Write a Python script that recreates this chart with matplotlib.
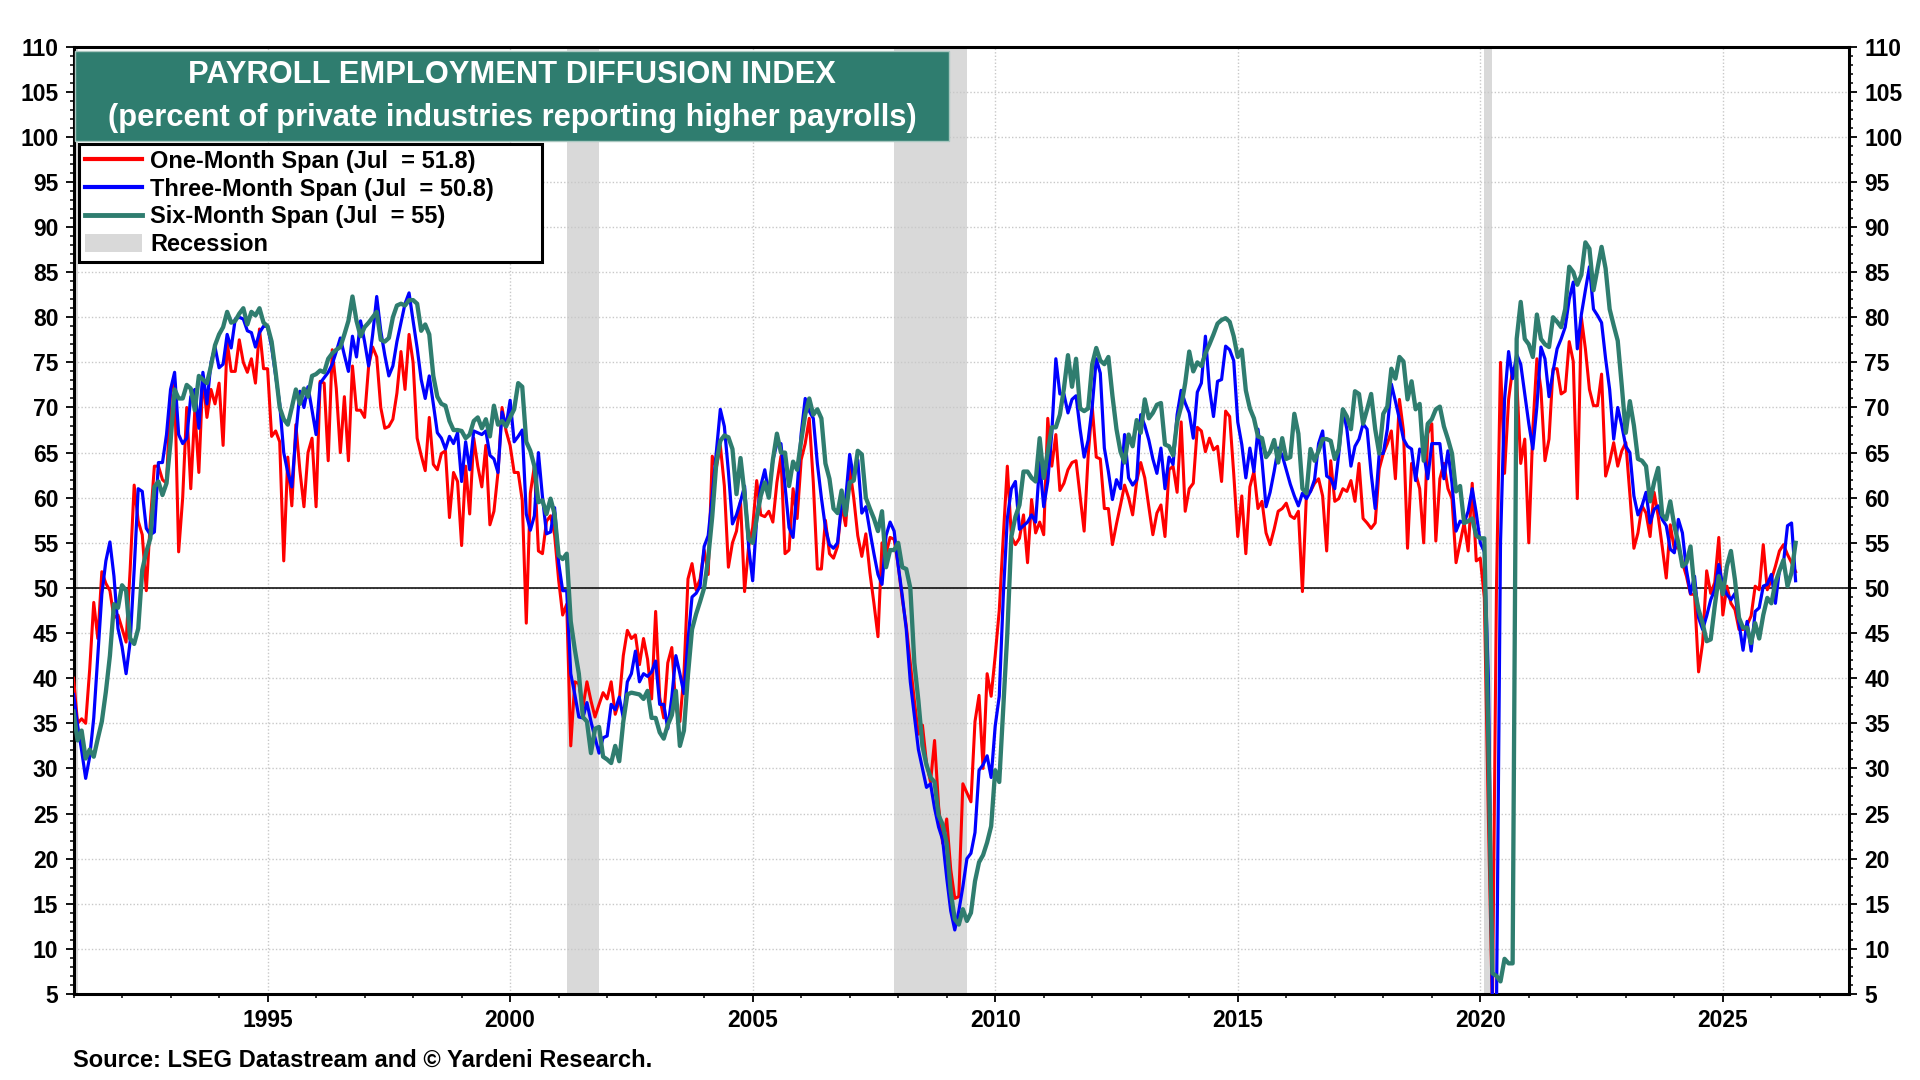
import numpy as np
import matplotlib
matplotlib.use("Agg")
import matplotlib.pyplot as plt
from matplotlib.patches import Patch, Rectangle
from matplotlib.lines import Line2D
from matplotlib.ticker import MultipleLocator

plt.rcParams["font.family"] = ["Liberation Sans", "DejaVu Sans"]
plt.rcParams["font.weight"] = "bold"

# monthly data, Jan 1991 .. Jul 2026 (one row per year)
one_month = [
    40, 35, 35.5, 35, 41, 48.4, 44.4, 51.8, 50.5, 49.7, 46.7, 47,
    45.5, 44, 52, 61.4, 57.4, 55.9, 49.7, 57.4, 63.5, 63.5, 62, 61.6,
    71.6, 72.7, 54, 60, 70, 61, 69.7, 62.8, 73.5, 68.9, 72, 70.4,
    72.7, 65.8, 77.3, 74, 74, 77.5, 75, 73.9, 75.4, 72.7, 78.7, 74.3,
    74.3, 66.8, 67.4, 66.2, 53, 64.5, 59.1, 68.1, 63, 59, 65, 66.6,
    59, 72.9, 72.7, 64.1, 76.4, 72.1, 65, 71.2, 64.1, 74.6, 69.7, 69.7,
    68.9, 74.6, 76.7, 75.6, 70, 67.7, 67.9, 68.7, 71.6, 76.2, 72, 78.1,
    75, 66.6, 64.7, 63, 68.9, 63.7, 63.1, 64.9, 65.2, 57.8, 62.8, 61.8,
    54.7, 63.5, 58.2, 66.6, 63.5, 61.2, 65.8, 57, 58.5, 62.8, 70, 67.4,
    65.8, 62.8, 62.8, 59.7, 46.1, 60.5, 63.5, 54.1, 53.8, 57.4, 58, 55.9,
    50.9, 47, 48.2, 32.5, 39.6, 39.4, 36.7, 39.6, 37.5, 35.7, 37.1, 38.4,
    37.7, 39.6, 36, 37.5, 42.5, 45.3, 44.4, 44.8, 41.5, 44.4, 42.1, 37.7,
    47.4, 37.9, 35.6, 41.7, 43.4, 36.7, 35.2, 40.4, 51, 52.7, 49.8, 51,
    54.2, 51.5, 64.6, 63.3, 65.8, 61.3, 52.3, 55, 56.3, 59.6, 49.6, 54.6,
    56.7, 61.9, 58.1, 57.9, 58.5, 57.3, 61.7, 64.6, 53.8, 54.2, 61, 57.7,
    64.2, 66, 68.8, 61.7, 52.1, 52.1, 57.5, 53.8, 53.3, 54.6, 59.2, 56.9,
    63.3, 60, 55.8, 53.5, 56, 51.7, 48.3, 44.6, 55, 53.8, 55.6, 55.4,
    52.5, 48.8, 45.8, 41.7, 37.5, 33.8, 34.8, 30.6, 28.5, 33.1, 25.8, 21.7,
    24.4, 18.8, 15.6, 15.8, 28.3, 27.3, 26.3, 35.2, 38.1, 30, 40.5, 38,
    42.5, 47.5, 55.7, 63.5, 55.7, 54.8, 55.5, 58.1, 52.8, 59.8, 56.1, 57.3,
    55.9, 68.8, 63.5, 67, 60.8, 61.6, 63.1, 63.9, 64.1, 60.2, 56.3, 64.7,
    70.1, 64.5, 64.3, 58.8, 58.8, 54.8, 57.1, 59.2, 61.4, 60, 58.1, 61.8,
    63.9, 62.2, 59, 55.9, 58.3, 59.2, 55.7, 63.1, 63.5, 60.6, 68.4, 58.5,
    61, 61.6, 67.8, 67.4, 65.1, 66.6, 65.3, 65.7, 61.8, 69.6, 69, 62.7,
    55.7, 60.2, 53.8, 61.2, 62.9, 58.8, 59.6, 56.1, 54.8, 56.5, 58.5, 58.8,
    59.4, 58, 57.7, 58.5, 49.6, 60.5, 60.7, 61.6, 62.1, 60.2, 54.1, 64.1,
    59.6, 59.9, 61, 60.7, 61.9, 59.6, 63.8, 57.7, 57.2, 56.6, 57.2, 63.2,
    64.9, 66, 67.4, 62.1, 70.9, 67.4, 54.4, 63.8, 62.7, 61, 55, 67.1,
    68.2, 55.2, 62.1, 63.8, 61, 59.9, 52.8, 55, 57.2, 54.1, 61.6, 53,
    53.3, 48.9, 24.6, 3, 50, 75, 62.7, 70.9, 74.3, 73.2, 63.8, 66.5,
    55, 67.6, 75.4, 72, 64.1, 66.5, 74.3, 74.3, 71.5, 71.8, 77.3, 75.1,
    59.9, 80, 76.5, 72, 70.2, 70.2, 73.7, 62.4, 64, 66.1, 63.5, 65.2,
    66.1, 60.4, 54.4, 56.1, 59.1, 58.3, 55.7, 60.6, 58, 54.6, 51.1, 57,
    54.3, 54.6, 52.8, 51.3, 49.3, 49.3, 40.7, 43.9, 51.9, 49.4, 50.6, 55.6,
    47, 50.2, 48.3, 47.6, 45.4, 45.4, 45.9, 46.9, 50.2, 49.8, 54.8, 49.8,
    50.9, 52.4, 54.1, 54.8, 53.7, 52.8, 51.8,
]

three_month = [
    38.2, 34.8, 32, 28.9, 31.3, 35.6, 42.5, 49.3, 53, 55.1, 51.3, 45.5,
    43.5, 40.5, 44, 52, 61, 60.7, 56.6, 55.9, 56.2, 63.9, 63.9, 67,
    72, 73.9, 67, 66, 66.6, 71.2, 72, 67.7, 73.9, 70.4, 75, 76.7,
    74.4, 74.8, 78.1, 76.6, 79.8, 80, 79.8, 78.5, 78.3, 76.7, 78.3, 79,
    79, 76.7, 73.5, 70.4, 65, 62.8, 61.2, 67, 71.8, 70, 72.3, 69.7,
    67, 72.7, 73.3, 73.9, 74.8, 76.2, 77.7, 75.8, 74, 77.9, 75.6, 79.6,
    77.3, 74.6, 78.1, 82.3, 78.5, 75.8, 73.5, 74.6, 77.3, 79.4, 81.5, 82.7,
    79.6, 76.6, 73.1, 71, 73.5, 70.4, 67.2, 66.6, 65.4, 66.8, 66, 67.2,
    61.8, 66.2, 63.1, 67.4, 67.2, 67, 67.4, 64.7, 64.3, 62.8, 69.5, 67.9,
    70.8, 66.2, 66.8, 67.5, 58.2, 56.4, 58, 65, 60.1, 56, 56.2, 58.9,
    52.8, 49.7, 49.7, 40.5, 38.2, 35.7, 35.6, 37.3, 35.2, 33.4, 31.7, 33.4,
    33.6, 37.1, 36.5, 37.9, 35.6, 39.6, 40.5, 43, 39.6, 40.5, 40.2, 40.7,
    41.9, 37.1, 37.1, 34.4, 37.9, 42.5, 40.5, 38.3, 44.2, 49, 49.4, 50.2,
    54.6, 55.8, 60.2, 65, 69.8, 67.9, 62.9, 57.1, 58.1, 59.6, 61.3, 54.6,
    50.8, 57.7, 61.3, 63.1, 60.4, 64.2, 66, 66, 61.3, 56.7, 55.6, 61,
    67.1, 71, 69.6, 68.8, 63.8, 60, 56.7, 54.8, 54.4, 55, 59.4, 59.8,
    64.8, 62.1, 64.2, 58.3, 59, 56.3, 53.8, 51.5, 50.4, 55.8, 57.3, 56.3,
    52.5, 49.2, 45.4, 39.6, 35.8, 32.1, 30, 27.9, 28.3, 25.6, 23.5, 22.1,
    17.9, 14.2, 12.1, 14.2, 16.9, 20, 20.6, 22.9, 29.8, 30.4, 31.4, 29,
    34.7, 38, 49.1, 57.7, 61, 61.8, 56.5, 56.9, 57.3, 58.1, 57.3, 63.9,
    59, 61.8, 67.2, 75.4, 71.5, 71.5, 69.4, 70.9, 71.3, 67.6, 64.5, 66.4,
    70.1, 75.4, 73.8, 65.5, 62.9, 59.8, 62, 61, 67, 62.2, 61.4, 62,
    69.2, 68, 66.4, 64.3, 62.7, 65.5, 61, 64.5, 63.7, 69.2, 71.9, 70.5,
    69.4, 66.6, 71.7, 72.7, 77.9, 72.1, 69, 72.9, 73.1, 76.8, 76.4, 75.2,
    68.4, 65.9, 62.2, 65.5, 62.9, 67.6, 64.1, 59, 60.6, 62.9, 65.5, 64.7,
    63.1, 61.5, 60.2, 59.1, 60.5, 59.9, 60.7, 62, 66, 67.4, 62.4, 62.1,
    61, 64.9, 69.8, 67.6, 63.5, 65.7, 66.5, 68.2, 67.6, 62.7, 58.8, 64.9,
    64.9, 67.6, 72.6, 70.7, 68.7, 66.5, 65.7, 65.4, 61.9, 65.4, 64.9, 62.1,
    66, 66, 66, 62.1, 65.2, 61.6, 56.3, 57.4, 57.2, 58.5, 61, 58.3,
    55, 54, 40, 4, 3, 55, 70.9, 76.2, 73.2, 75.9, 74.8, 71.5,
    68.2, 65.4, 70.1, 76.7, 75.4, 71.2, 74, 76.5, 77.6, 78.9, 82, 83.9,
    76.5, 80.3, 83, 85.6, 80.9, 80.2, 79.4, 75.4, 72, 66.5, 70, 68,
    65.7, 65, 60.2, 58.1, 59.1, 60.6, 57.2, 58.7, 59.1, 57.6, 56.9, 54.3,
    53.9, 57.6, 56.1, 52, 49.4, 51.3, 46.7, 45.4, 46.9, 48.7, 49.8, 52.6,
    50.2, 49.3, 48.7, 49.4, 46.1, 43.1, 46.3, 43, 47.4, 47.8, 50.2, 50.4,
    51.5, 48.3, 52, 52.8, 56.9, 57.2, 50.8,
]

six_month = [
    36.3, 33.1, 34.2, 31.1, 32.1, 31.3, 33.3, 35.2, 38.5, 42.5, 48.2, 47.8,
    50.3, 49.7, 44.4, 43.8, 45.5, 52, 54, 55.5, 61.2, 61.8, 60.3, 61.6,
    66.2, 72, 71, 71, 72.5, 72.1, 69.7, 73.5, 73.1, 72.7, 74.6, 76.9,
    78.1, 78.9, 80.6, 79.4, 79.6, 80.4, 81, 79.2, 80.6, 80.2, 81, 79.4,
    79, 77.3, 73.9, 70, 68.7, 68.1, 70, 72, 70.4, 72.1, 71.2, 73.5,
    73.7, 74.1, 73.9, 75.4, 76, 76.4, 76.7, 78.1, 79.6, 82.3, 79.6, 77.9,
    78.9, 79.4, 80, 80.6, 77.5, 77.3, 77.7, 80, 81.3, 81.5, 81.3, 81.9,
    81.9, 81.5, 78.5, 79.2, 78.1, 73.5, 71.2, 70.4, 70.2, 68.5, 67.5, 67.5,
    67.4, 66.6, 67, 68.5, 68.9, 67.7, 68.7, 66.8, 70.2, 68.1, 68.5, 67.9,
    68.9, 69.8, 72.7, 72.3, 66.2, 65.2, 63.5, 59.5, 59.7, 58.2, 59.9, 58.2,
    53.6, 53.2, 53.8, 46.3, 43.2, 40.5, 35.7, 35.2, 31.7, 34.4, 34.6, 31.3,
    31, 30.6, 32.5, 30.8, 35.2, 38.2, 38.4, 38.3, 38.2, 37.7, 38.6, 35.6,
    35.6, 34, 33.3, 34.8, 35.9, 38.6, 32.5, 34.2, 40.4, 45.4, 47.1, 48.5,
    50, 53.3, 57.9, 63.8, 66.3, 66.9, 66.7, 65.4, 60.4, 64.4, 60.4, 55.4,
    55, 57.7, 60.2, 61.7, 60, 64.2, 67.1, 65, 65, 61.3, 64, 63.1,
    66.3, 69.2, 71, 69.2, 69.8, 68.8, 63.8, 62.1, 58.8, 58.3, 60.8, 58.1,
    61.7, 61.9, 65.2, 64.8, 60, 58.8, 57.7, 56.3, 58.5, 52.3, 54.2, 54.2,
    55, 52.3, 52.1, 50, 41.7, 37.5, 32.5, 30.4, 29, 28.5, 24.8, 23.8,
    21.7, 16.3, 13.3, 12.7, 14.4, 13.1, 14, 17.5, 19.6, 20.4, 21.8, 23.6,
    29.8, 28.5, 36.8, 45, 55.7, 57.9, 59.2, 62.9, 62.9, 62.2, 61.8, 66.6,
    62.2, 65.1, 67.8, 67.8, 69.2, 72.1, 75.8, 72.3, 75.4, 69.9, 69.6, 69.9,
    74.8, 76.6, 75.2, 74.8, 75.6, 71.3, 67.6, 65.1, 63.9, 67, 65.7, 68.6,
    67.2, 70.9, 68.8, 69.4, 70.3, 70.5, 65.9, 65.7, 64.7, 68.4, 70.1, 72.7,
    76.2, 74, 75, 74.6, 76, 77, 78.1, 79.3, 79.7, 79.9, 79.5, 77.9,
    75.6, 76.4, 71.9, 69.9, 68.8, 66.8, 66.6, 64.5, 65.1, 66.4, 63.9, 66.6,
    64.3, 64.5, 69.3, 67.1, 61, 60.5, 65.4, 64.1, 65.2, 66.5, 66.5, 66.3,
    64.3, 65.4, 69.8, 69, 67.6, 71.8, 71.5, 68.2, 69.8, 71.5, 67.6, 64.9,
    69.3, 70.1, 74.3, 73.2, 75.6, 75.1, 70.9, 72.9, 69.8, 70.4, 64.1, 68.2,
    68.7, 69.8, 70.1, 67.9, 66.5, 64.9, 60.7, 61.3, 57.2, 57.4, 57.7, 55.8,
    55.5, 55.5, 33, 7.3, 7, 6.4, 8.9, 8.4, 8.4, 77.6, 81.7, 77.6,
    77, 75.6, 80.3, 77.6, 77, 76.7, 80, 79.5, 78.9, 80.9, 85.6, 85,
    83.6, 84.7, 88.3, 87.6, 83, 85.4, 87.8, 85.4, 80.9, 79.1, 77.4, 72.4,
    67.2, 70.7, 68, 64.3, 64.1, 63.5, 59.6, 61.7, 63.3, 58.1, 57.6, 59.6,
    56.9, 55, 52.4, 52.8, 54.6, 49.8, 47.6, 46.1, 44.1, 44.3, 48, 51.3,
    49.3, 52.4, 54.1, 50.9, 46.7, 45.6, 45.6, 43.9, 46.1, 44.4, 47, 48.9,
    48.3, 50.6, 51.9, 53.1, 50.2, 51.7, 55,
]

# recession periods (start, end) as decimal years
recessions = [(1990.5, 1991 + 1 / 12), (2001 + 2 / 12, 2001 + 10 / 12),
              (2007 + 11 / 12, 2009 + 5 / 12), (2020 + 1 / 12, 2020 + 3 / 12)]

assert len(one_month) == len(three_month) == len(six_month) == 427

RED = "#FF0000"
BLUE = "#0000FF"
GREEN = "#2F7D6F"
SHADE = "#D9D9D9"

months = 1991 + np.arange(len(one_month)) / 12

fig = plt.figure(figsize=(19.2, 10.8), dpi=100)
ax = fig.add_axes([0.0383, 0.0796, 0.9247, 0.8773])

for start, end in recessions:
    ax.axvspan(start, end, color=SHADE, lw=0, zorder=0)

ax.axhline(50, color="black", lw=1.1, zorder=2)
ax.plot(months, one_month, color=RED, lw=2.2, zorder=3)
ax.plot(months, three_month, color=BLUE, lw=2.3, zorder=4)
ax.plot(months, six_month, color=GREEN, lw=3.1, zorder=5)

ax.set_xlim(1991.0, 2027.6)
ax.set_ylim(5, 110)

ax.xaxis.set_major_locator(MultipleLocator(5))
ax.xaxis.set_minor_locator(MultipleLocator(1))
ax.yaxis.set_major_locator(MultipleLocator(5))
ax.yaxis.set_minor_locator(MultipleLocator(1))
ax.grid(True, which="major", color="#C8C8C8", linestyle=(0, (1, 1.5)), lw=1.0, zorder=1)

ax.tick_params(axis="both", which="major", direction="out", length=6, width=1.3,
               labelsize=16.5, pad=5, colors="black")
ax.tick_params(axis="both", which="minor", direction="out", length=3, width=1.1)
ax.tick_params(axis="y", which="both", right=True, labelright=True)
for lab in ax.get_xticklabels() + ax.get_yticklabels():
    lab.set_fontweight("bold")

for side in ["left", "right", "top", "bottom"]:
    ax.spines[side].set_linewidth(2.2)
    ax.spines[side].set_color("black")

# title box
ax.add_patch(Rectangle((0.0008, 0.9003), 0.4923, 0.095, transform=ax.transAxes,
                       facecolor=GREEN, edgecolor="#A9C7C0", lw=1, zorder=6))
ax.text(0.247, 0.9702, "PAYROLL EMPLOYMENT DIFFUSION INDEX", transform=ax.transAxes,
        ha="center", va="center", color="white", fontsize=22.2, fontweight="bold", zorder=7)
ax.text(0.247, 0.925, "(percent of private industries reporting higher payrolls)",
        transform=ax.transAxes, ha="center", va="center", color="white",
        fontsize=22.2, fontweight="bold", zorder=7)

handles = [
    Line2D([], [], color=RED, lw=3),
    Line2D([], [], color=BLUE, lw=3),
    Line2D([], [], color=GREEN, lw=3.5),
    Patch(facecolor=SHADE, edgecolor="none"),
]
labels = [
    f"One-Month Span (Jul  = {one_month[-1]})",
    f"Three-Month Span (Jul  = {three_month[-1]})",
    f"Six-Month Span (Jul  = {six_month[-1]:g})",
    "Recession",
]
leg = ax.legend(handles, labels, loc="upper left", bbox_to_anchor=(0.0033, 0.78, 0.2606, 0.1171),
                mode="expand", borderaxespad=0, fontsize=17, frameon=True, fancybox=False,
                framealpha=1, edgecolor="black", handlelength=2.4, handleheight=0.8,
                handletextpad=0.35, labelspacing=0.2, borderpad=0.25)
leg.get_frame().set_linewidth(2.2)
leg.set_zorder(8)
for t in leg.get_texts():
    t.set_fontweight("bold")

fig.text(0.038, 0.0185, "Source: LSEG Datastream and \u00a9 Yardeni Research.",
         ha="left", va="center", fontsize=17, fontweight="bold")

fig.savefig("out.png", dpi=100)
